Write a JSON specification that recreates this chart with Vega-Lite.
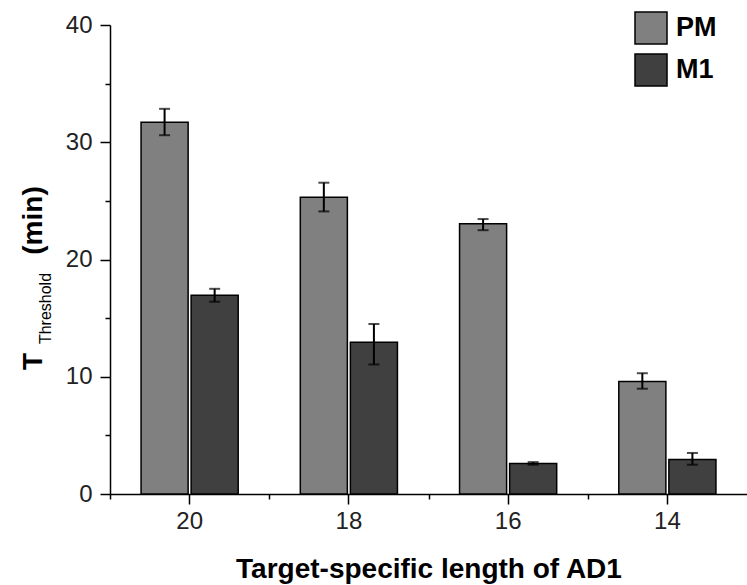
{
  "$schema": "https://vega.github.io/schema/vega-lite/v6.json",
  "width": 637,
  "height": 469,
  "autosize": {"type": "none"},
  "padding": {"left": 110, "top": 25, "right": 0, "bottom": 91},
  "background": "white",
  "config": {
    "view": {"stroke": null},
    "font": "Liberation Sans",
    "axis": {"grid": false, "domainColor": "black", "domainWidth": 1.5, "tickColor": "black", "tickWidth": 1.5, "labelColor": "#222222", "titleColor": "black"}
  },
  "data": {
    "values": [
      {"len": "20", "probe": "PM", "value": 31.7, "lo": 30.6, "hi": 32.85},
      {"len": "20", "probe": "M1", "value": 16.95, "lo": 16.4, "hi": 17.5},
      {"len": "18", "probe": "PM", "value": 25.3, "lo": 24.1, "hi": 26.55},
      {"len": "18", "probe": "M1", "value": 12.95, "lo": 11.05, "hi": 14.5},
      {"len": "16", "probe": "PM", "value": 23.05, "lo": 22.5, "hi": 23.45},
      {"len": "16", "probe": "M1", "value": 2.6, "lo": 2.5, "hi": 2.72},
      {"len": "14", "probe": "PM", "value": 9.6, "lo": 8.98, "hi": 10.3},
      {"len": "14", "probe": "M1", "value": 2.95, "lo": 2.5, "hi": 3.5}
    ]
  },
  "layer": [
    {
      "mark": {"type": "bar", "stroke": "black", "strokeWidth": 1.5},
      "encoding": {
        "x": {
          "field": "len", "type": "nominal", "sort": ["20", "18", "16", "14"],
          "scale": {"paddingInner": 0.39, "paddingOuter": 0.195},
          "axis": {
            "orient": "bottom",
            "title": "Target-specific length of AD1",
            "titleFontSize": 28, "titleFontWeight": "bold",
            "titleY": 83, "titleBaseline": "alphabetic",
            "labelFontSize": 24, "labelAngle": 0, "labelPadding": 5, "tickSize": 10
          }
        },
        "xOffset": {"field": "probe", "type": "nominal", "sort": ["PM", "M1"], "scale": {"paddingInner": 0.06}},
        "y": {
          "field": "value", "type": "quantitative",
          "scale": {"domain": [0, 40], "nice": false},
          "axis": {
            "orient": "left",
            "values": [0, 10, 20, 30, 40],
            "title": "T", "titleX": -69, "titleY": 336, "titleAngle": -90,
            "titleAlign": "center", "titleBaseline": "alphabetic",
            "titleFontSize": 28, "titleFontWeight": "bold",
            "labelFontSize": 24, "labelPadding": 8, "tickSize": 10
          }
        },
        "color": {
          "field": "probe", "type": "nominal",
          "scale": {"domain": ["PM", "M1"], "range": ["#808080", "#404040"]},
          "legend": {
            "title": null, "orient": "none", "legendX": 524, "legendY": -14,
            "symbolType": "square", "symbolSize": 1024,
            "symbolStrokeColor": "black", "symbolStrokeWidth": 1.5,
            "labelFontSize": 27, "labelFontWeight": "bold", "labelColor": "black",
            "labelOffset": 8, "rowPadding": 4, "padding": 0
          }
        }
      }
    },
    {
      "mark": {"type": "rule", "strokeWidth": 2, "color": "black"},
      "encoding": {
        "x": {
          "field": "len", "type": "nominal", "sort": ["20", "18", "16", "14"],
          "axis": {"orient": "bottom", "bandPosition": 0, "tickOffset": -31, "labels": false, "domain": false, "title": null, "tickSize": 5}
        },
        "xOffset": {"field": "probe", "type": "nominal", "sort": ["PM", "M1"]},
        "y": {
          "field": "lo", "type": "quantitative",
          "axis": {
            "orient": "left", "values": [5, 15, 25, 35], "labels": false, "domain": false, "ticks": true, "tickSize": 5,
            "title": "Threshold", "titleX": -60, "titleY": 283, "titleAngle": -90,
            "titleAlign": "center", "titleBaseline": "alphabetic",
            "titleFontSize": 16, "titleFontWeight": "normal"
          }
        },
        "y2": {"field": "hi"}
      }
    },
    {
      "mark": {"type": "tick", "size": 11, "thickness": 2, "color": "black"},
      "encoding": {
        "x": {"field": "len", "type": "nominal", "sort": ["20", "18", "16", "14"], "axis": null},
        "xOffset": {"field": "probe", "type": "nominal", "sort": ["PM", "M1"]},
        "y": {
          "field": "hi", "type": "quantitative",
          "axis": {
            "orient": "left", "labels": false, "domain": false, "ticks": false,
            "title": "(min)", "titleX": -69, "titleY": 195, "titleAngle": -90,
            "titleAlign": "center", "titleBaseline": "alphabetic",
            "titleFontSize": 28, "titleFontWeight": "bold"
          }
        }
      }
    },
    {
      "mark": {"type": "tick", "size": 11, "thickness": 2, "color": "black"},
      "encoding": {
        "x": {"field": "len", "type": "nominal", "sort": ["20", "18", "16", "14"], "axis": null},
        "xOffset": {"field": "probe", "type": "nominal", "sort": ["PM", "M1"]},
        "y": {"field": "lo", "type": "quantitative", "axis": null}
      }
    }
  ],
  "resolve": {"axis": {"x": "independent", "y": "independent"}}
}
